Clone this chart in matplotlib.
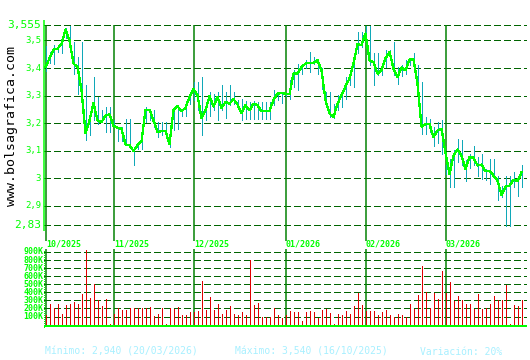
import matplotlib
matplotlib.use("Agg")
import matplotlib.pyplot as plt

# daily values, one per trading day (09/10/2025 .. end of 03/2026)
close = [3.404, 3.435, 3.467, 3.470, 3.487, 3.540, 3.500, 3.416, 3.404, 3.320,
         3.165, 3.210, 3.273, 3.210, 3.204, 3.228, 3.232, 3.190, 3.184, 3.180,
         3.123, 3.120, 3.100, 3.120, 3.134, 3.249, 3.249, 3.210, 3.168, 3.171,
         3.171, 3.125, 3.247, 3.261, 3.244, 3.256, 3.295, 3.323, 3.301, 3.220,
         3.247, 3.298, 3.261, 3.295, 3.256, 3.277, 3.271, 3.287, 3.268, 3.237,
         3.265, 3.247, 3.271, 3.265, 3.244, 3.244, 3.244, 3.285, 3.307, 3.310,
         3.307, 3.305, 3.380, 3.380, 3.404, 3.416, 3.419, 3.419, 3.428, 3.392,
         3.283, 3.235, 3.222, 3.271, 3.301, 3.334, 3.362, 3.416, 3.487, 3.483,
         3.525, 3.428, 3.422, 3.380, 3.392, 3.435, 3.459, 3.398, 3.368, 3.402,
         3.392, 3.431, 3.431, 3.344, 3.188, 3.196, 3.196, 3.150, 3.174, 3.180,
         3.092, 3.016, 3.083, 3.105, 3.083, 3.035, 3.077, 3.075, 3.047, 3.050,
         3.026, 3.028, 3.010, 2.992, 2.940, 2.970, 2.974, 2.995, 2.990, 3.022]
high = [3.480, 3.460, 3.483, 3.483, 3.507, 3.545, 3.552, 3.495, 3.440, 3.495,
        3.337, 3.222, 3.368, 3.295, 3.247, 3.259, 3.259, 3.210, 3.186, 3.186,
        3.216, 3.216, 3.107, 3.130, 3.140, 3.260, 3.250, 3.247, 3.204, 3.204,
        3.204, 3.186, 3.247, 3.265, 3.253, 3.270, 3.300, 3.350, 3.350, 3.368,
        3.265, 3.313, 3.307, 3.313, 3.337, 3.313, 3.337, 3.313, 3.285, 3.289,
        3.280, 3.277, 3.280, 3.277, 3.277, 3.277, 3.277, 3.319, 3.307, 3.313,
        3.310, 3.356, 3.392, 3.416, 3.416, 3.430, 3.459, 3.440, 3.430, 3.400,
        3.313, 3.313, 3.270, 3.301, 3.310, 3.368, 3.380, 3.422, 3.532, 3.532,
        3.552, 3.552, 3.453, 3.455, 3.410, 3.465, 3.465, 3.495, 3.404, 3.410,
        3.430, 3.435, 3.453, 3.410, 3.350, 3.222, 3.215, 3.188, 3.204, 3.210,
        3.095, 3.071, 3.104, 3.144, 3.140, 3.065, 3.089, 3.119, 3.077, 3.089,
        3.035, 3.071, 3.071, 3.007, 2.974, 3.010, 3.010, 3.022, 3.010, 3.050]
low = [3.390, 3.420, 3.416, 3.460, 3.453, 3.510, 3.477, 3.380, 3.307, 3.320,
       3.140, 3.156, 3.210, 3.198, 3.204, 3.168, 3.168, 3.186, 3.137, 3.137,
       3.125, 3.119, 3.047, 3.107, 3.107, 3.204, 3.210, 3.186, 3.150, 3.156,
       3.156, 3.113, 3.174, 3.180, 3.228, 3.228, 3.270, 3.283, 3.247, 3.156,
       3.210, 3.228, 3.249, 3.210, 3.247, 3.220, 3.265, 3.271, 3.250, 3.210,
       3.216, 3.216, 3.216, 3.216, 3.216, 3.216, 3.216, 3.265, 3.283, 3.273,
       3.300, 3.289, 3.331, 3.319, 3.380, 3.400, 3.386, 3.416, 3.380, 3.325,
       3.265, 3.222, 3.220, 3.247, 3.260, 3.289, 3.338, 3.331, 3.453, 3.477,
       3.507, 3.410, 3.338, 3.374, 3.374, 3.404, 3.440, 3.374, 3.344, 3.370,
       3.380, 3.410, 3.392, 3.344, 3.162, 3.162, 3.170, 3.116, 3.128, 3.089,
       3.016, 2.970, 2.970, 3.059, 3.047, 2.992, 3.038, 3.047, 3.010, 2.998,
       2.995, 2.980, 3.004, 2.920, 2.932, 2.828, 2.828, 2.968, 2.937, 2.968]
volume_k = [115, 260, 200, 252, 136, 248, 260, 281, 260, 384,
            920, 330, 508, 310, 227, 314, 5, 136, 200, 186,
            186, 200, 200, 200, 200, 210, 219, 103, 128, 200,
            5, 210, 194, 219, 116, 116, 153, 161, 165, 541,
            178, 343, 178, 252, 128, 178, 227, 128, 116, 153,
            116, 797, 240, 269, 95, 95, 95, 202, 116, 87,
            116, 165, 153, 153, 41, 153, 169, 153, 83, 178,
            198, 145, 4, 128, 116, 169, 128, 227, 393, 240,
            165, 165, 165, 116, 153, 178, 116, 95, 136, 116,
            95, 260, 198, 364, 723, 400, 210, 393, 314, 665,
            393, 525, 293, 351, 301, 252, 252, 194, 376, 194,
            202, 252, 351, 301, 301, 487, 4, 240, 227, 301]

month_labels = ["10/2025", "11/2025", "12/2025", "01/2026", "02/2026", "03/2026"]
month_start = [0, 17, 37, 60, 80, 100]

price_ticks = [3.555, 3.5, 3.4, 3.3, 3.2, 3.1, 3.0, 2.9, 2.83]
price_tick_labels = ["3,555", "3,5", "3,4", "3,3", "3,2", "3,1", "3", "2,9", "2,83"]
vol_ticks_k = [100, 200, 300, 400, 500, 600, 700, 800, 900]
vol_tick_labels = ["100K", "200K", "300K", "400K", "500K", "600K", "700K", "800K", "900K"]

GREEN, DKGREEN, GRID = "#00ff00", "#008000", "#006400"
TEAL, RED, CYAN = "#10a8b8", "#e00000", "#a8f0ff"
MONO = "DejaVu Sans Mono"
W, H = 530, 360
PX = 0.72                       # one pixel, in points
DASH = (0, (6, 3))              # 6 px on, 3 px off at 1 px width

fig = plt.figure(figsize=(W / 100, H / 100), dpi=100, facecolor="white")


def box(x0, y0, x1, y1):
    # pixel box, origin top-left
    return [x0 / W, 1 - y1 / H, (x1 - x0) / W, (y1 - y0) / H]


days = list(range(len(close)))
# 4 px per day; days land on pixel centres (x = 45.5 + 4*i)
xlo, xhi = -0.375, 120.375
crisp = dict(antialiased=False)

# ---------- price panel ----------
# 3.555 sits at y=25.3 px, 2.83 at y=225.3 px
k = 200 / (3.555 - 2.83)
p_top = 3.555 + (25.3 - 20) / k
p_bot = 2.83 - (241 - 225.3) / k
ax = fig.add_axes(box(44, 20, 527, 241))
ax.set_xlim(xlo, xhi)
ax.set_ylim(p_bot, p_top)
ax.axis("off")

ax.hlines(price_ticks, xlo, xhi, colors=GRID, lw=PX, linestyles=DASH, zorder=1, **crisp)
ax.vlines(month_start, p_bot, 3.555, colors=DKGREEN, lw=1.5 * PX, zorder=2)
ax.vlines([-0.5], 2.83 - 5.4 / k, p_top, colors=GREEN, lw=1.5 * PX, zorder=2,
          clip_on=False)
ax.vlines(days, low, high, colors=TEAL, lw=PX, zorder=3, **crisp)
ax.plot(days, close, color=GREEN, lw=1.3 * PX, zorder=4, **crisp)

for v, lab in zip(price_ticks, price_tick_labels):
    big = lab in ("3,555", "2,83")
    ax.text(-1.1, v, lab, ha="right", va="center", color=GREEN,
            fontsize=8 if big else 6.5, family=MONO, clip_on=False)

for m, lab in zip(month_start, month_labels):
    ax.text(m + 0.1, p_bot + 0.004, lab, ha="left", va="top", color=GREEN,
            fontsize=6, fontweight="bold", family=MONO, clip_on=False)

fig.text(12 / W, 1 - 126 / H, "www.bolsagrafica.com", rotation=90,
         ha="center", va="center", fontsize=9.5, family=MONO, color="black")

# ---------- volume panel ----------
kv = (324.6 - 252) / 900
v_top = 900 + (252 - 249) / kv
v_bot = -(326.5 - 324.6) / kv
axv = fig.add_axes(box(44, 249, 527, 326.5))
axv.set_xlim(xlo, xhi)
axv.set_ylim(v_bot, v_top)
axv.axis("off")

axv.hlines(vol_ticks_k, xlo, xhi, colors=GRID, lw=PX, linestyles=DASH, zorder=1, **crisp)
axv.vlines(month_start, v_bot, v_top, colors=DKGREEN, lw=1.5 * PX, zorder=2)
axv.vlines([-0.5], v_bot, v_top, colors=GREEN, lw=PX, linestyles=(0, (1, 2)), zorder=2,
           clip_on=False, **crisp)
axv.vlines(days, v_bot, volume_k, colors=RED, lw=PX, zorder=3, **crisp)
axv.hlines([v_bot + 0.5 / kv], -0.5, xhi, colors=GREEN, lw=2 * PX, zorder=4,
           clip_on=False, **crisp)

for v, lab in zip(vol_ticks_k, vol_tick_labels):
    axv.text(-0.6, v, lab, ha="right", va="center", color=GREEN, fontsize=6,
             fontweight="bold", family=MONO, clip_on=False)

# ---------- footer ----------
fy = 1 - 352 / H
fig.text(45 / W, fy, "Mínimo: 2,940 (20/03/2026)", color=CYAN, fontsize=7,
         family=MONO, va="center")
fig.text(235 / W, fy, "Máximo: 3,540 (16/10/2025)", color=CYAN, fontsize=7,
         family=MONO, va="center")
fig.text(420 / W, fy, "Variación: 20%", color=CYAN, fontsize=7,
         family=MONO, va="center")

fig.savefig("out.png", dpi=100, facecolor="white")
